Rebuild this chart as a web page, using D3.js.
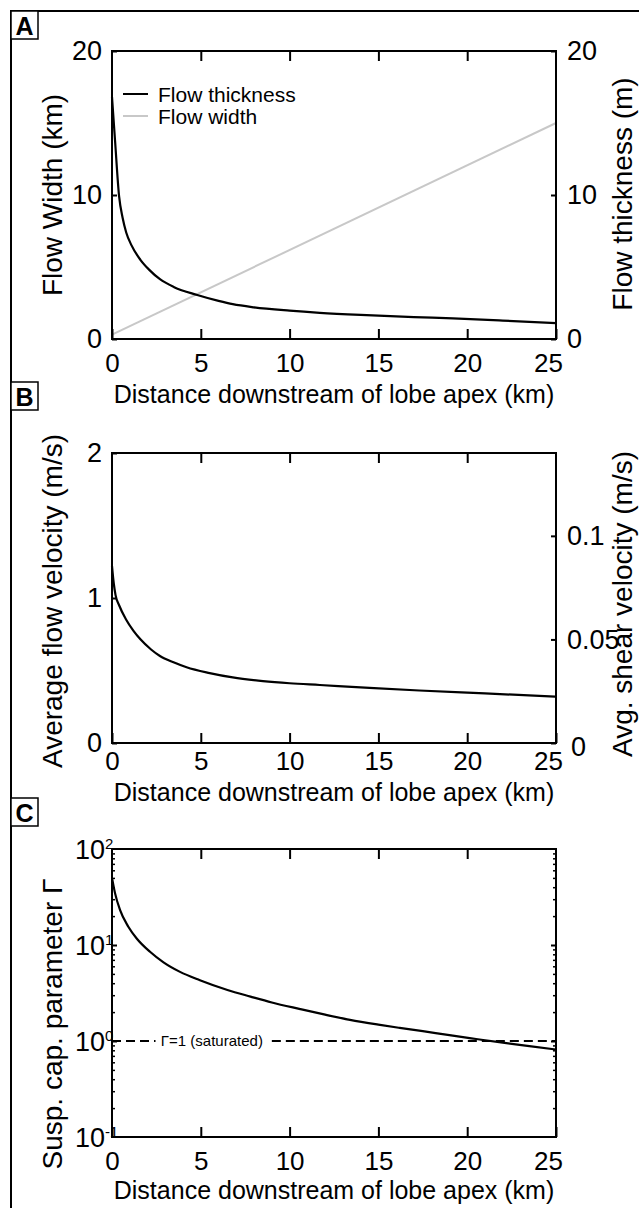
<!DOCTYPE html>
<html>
<head>
<meta charset="utf-8">
<script src="https://cdn.jsdelivr.net/npm/d3@7"></script>
<style>
  body { margin: 0; background: #fff; }
  svg { display: block; font-family: "Liberation Sans", Arial, Helvetica, sans-serif; }
</style>
</head>
<body>
<svg id="fig" width="639" height="1208"></svg>
<script>
// Shared x axis (distance downstream, km)
const xTicks = [0, 5, 10, 15, 20, 25];
const xTitle = 'Distance downstream of lobe apex (km)';

// Panel A: flow width (km, left axis) and flow thickness (m, right axis)
const widthDist = [0, 25];
const widthKm = [0.3, 15];
const thickDist = [0, 0.17, 0.4, 0.6, 0.8, 1.1, 1.6, 2.1, 2.7, 3.5, 4.8, 6, 6.8, 8, 10, 11.7, 14, 17, 19.2, 22, 25];
const thickM = [16.8, 13.8, 9.9, 8.4, 7.4, 6.5, 5.5, 4.8, 4.15, 3.6, 3.06, 2.65, 2.42, 2.2, 1.97, 1.82, 1.67, 1.52, 1.43, 1.28, 1.1];
const aTicks = [0, 10, 20];

// Panel B: average flow velocity (m/s)
const velDist = [0, 0.1, 0.2, 0.4, 0.8, 1.2, 1.6, 2.2, 2.7, 3.5, 4.2, 5.5, 6.8, 8.5, 10, 11.7, 14.5, 17.3, 21, 25];
const velMs = [1.22, 1.1, 1.02, 0.95, 0.85, 0.775, 0.715, 0.645, 0.6, 0.555, 0.522, 0.482, 0.452, 0.427, 0.412, 0.40, 0.38, 0.362, 0.342, 0.32];
const bLeftTicks = [0, 1, 2];
const bRightTicks = [0, 0.05, 0.1];

// Panel C: suspension capacity parameter (log scale)
const gammaDist = [0, 0.17, 0.45, 0.92, 1.39, 2.14, 2.9, 3.83, 4.95, 6.5, 7.8, 9, 10.6, 12, 13.4, 15, 16.2, 17.5, 19, 20.5, 22, 23.5, 25];
const gammaVal = [50, 34.7, 23.2, 15.5, 11.7, 8.5, 6.6, 5.25, 4.3, 3.4, 2.9, 2.52, 2.15, 1.88, 1.66, 1.48, 1.37, 1.265, 1.15, 1.05, 0.96, 0.885, 0.815];
const cTicks = [0.1, 1, 10, 100];
const saturatedLabel = 'Γ=1 (saturated)';

const svg = d3.select('#fig');
const L = 112, R = 556;
const x = d3.scaleLinear().domain([0, 25]).range([L, R]);
const zip = (a, b) => a.map((d, i) => [d, b[i]]);

// outer figure frame (left and top edges visible)
svg.append('path').attr('d', 'M11,1208V11H639').attr('fill', 'none').attr('stroke', '#000').attr('stroke-width', 2);

// panel letters in small boxes
[['A', 11], ['B', 382], ['C', 798]].forEach(([t, y0]) => {
  svg.append('rect').attr('x', 11).attr('y', y0).attr('width', 27).attr('height', 28)
    .attr('fill', '#fff').attr('stroke', '#000').attr('stroke-width', 1.5);
  svg.append('text').attr('x', 24.5).attr('y', y0 + 24).attr('text-anchor', 'middle')
    .attr('font-size', 25).attr('font-weight', 'bold').text(t);
});

function styleAxis(g, size) {
  g.attr('font-family', null).attr('font-size', size);
  g.select('.domain').remove();
  g.selectAll('.tick line').attr('stroke', '#000').attr('stroke-width', 2);
  g.selectAll('.tick text').attr('fill', '#000');
  return g;
}

function xAxes(top, bottom, pad, titleY) {
  svg.append('g').attr('transform', `translate(0,${bottom})`)
    .call(d3.axisBottom(x).tickValues(xTicks).tickSize(-10).tickPadding(pad).tickFormat(d3.format('d')))
    .call(g => styleAxis(g, 26))
    // last label sits just inside the right edge, as in the original
    .call(g => g.selectAll('.tick text').filter(d => d === 25).attr('dx', -8));
  svg.append('g').attr('transform', `translate(0,${top})`)
    .call(d3.axisTop(x).tickValues(xTicks.slice(1, -1)).tickSize(-10).tickFormat(''))
    .call(g => styleAxis(g, 26));
  svg.append('text').attr('x', (L + R) / 2).attr('y', titleY).attr('text-anchor', 'middle')
    .attr('font-size', 25).text(xTitle);
}

function box(top, bottom) {
  svg.append('rect').attr('x', L).attr('y', top).attr('width', R - L).attr('height', bottom - top)
    .attr('fill', 'none').attr('stroke', '#000').attr('stroke-width', 2);
}

function yLabel(xPos, cy, txt) {
  svg.append('text').attr('transform', `translate(${xPos},${cy}) rotate(-90)`)
    .attr('text-anchor', 'middle').attr('font-size', 28).text(txt);
}

// ---------- Panel A ----------
const aTop = 51, aBot = 339;
const yA = d3.scaleLinear().domain([0, 20]).range([aBot, aTop]);
svg.append('path').datum(zip(widthDist, widthKm))
  .attr('d', d3.line().x(d => x(d[0])).y(d => yA(d[1])))
  .attr('fill', 'none').attr('stroke', '#c8c8c8').attr('stroke-width', 2);
svg.append('path').datum(zip(thickDist, thickM))
  .attr('d', d3.line().x(d => x(d[0])).y(d => yA(d[1])).curve(d3.curveMonotoneX))
  .attr('fill', 'none').attr('stroke', '#000').attr('stroke-width', 2.2);
box(aTop, aBot);
svg.append('g').attr('transform', `translate(${L},0)`)
  .call(d3.axisLeft(yA).tickValues(aTicks).tickSize(-5).tickPadding(10))
  .call(g => styleAxis(g, 27));
svg.append('g').attr('transform', `translate(${R},0)`)
  .call(d3.axisRight(yA).tickValues(aTicks).tickSize(-5).tickPadding(11))
  .call(g => styleAxis(g, 27));
xAxes(aTop, aBot, 15, 403);
yLabel(62, 195, 'Flow Width (km)');
yLabel(632, 194, 'Flow thickness (m)');

// legend
const legend = [['Flow thickness', '#000', 94], ['Flow width', '#c8c8c8', 116]];
legend.forEach(([name, col, ly]) => {
  svg.append('line').attr('x1', 123).attr('x2', 148).attr('y1', ly).attr('y2', ly)
    .attr('stroke', col).attr('stroke-width', 2);
  svg.append('text').attr('x', 158).attr('y', ly).attr('dy', '0.36em').attr('font-size', 21).text(name);
});

// ---------- Panel B ----------
const bTop = 453, bBot = 743;
const yB = d3.scaleLinear().domain([0, 2]).range([bBot, bTop]);
const yB2 = d3.scaleLinear().domain([0, 0.14]).range([bBot, bTop]);
svg.append('path').datum(zip(velDist, velMs))
  .attr('d', d3.line().x(d => x(d[0])).y(d => yB(d[1])).curve(d3.curveMonotoneX))
  .attr('fill', 'none').attr('stroke', '#000').attr('stroke-width', 2.2);
box(bTop, bBot);
svg.append('g').attr('transform', `translate(${L},0)`)
  .call(d3.axisLeft(yB).tickValues(bLeftTicks).tickSize(-5).tickPadding(10).tickFormat(d3.format('d')))
  .call(g => styleAxis(g, 27));
svg.append('g').attr('transform', `translate(${R},0)`)
  .call(d3.axisRight(yB2).tickValues(bRightTicks).tickSize(-5).tickPadding(11).tickFormat(d => String(d)))
  .call(g => styleAxis(g, 27))
  .call(g => g.selectAll('.tick text').filter(d => d === 0).attr('dx', 4).attr('dy', '0.45em'));
xAxes(bTop, bBot, 9, 801);
yLabel(62, 601, 'Average flow velocity (m/s)');
yLabel(632, 604, 'Avg. shear velocity (m/s)');

// ---------- Panel C ----------
const cTop = 849, cBot = 1137;
const yC = d3.scaleLog().domain([0.1, 100]).range([cBot, cTop]);
const minor = [];
cTicks.slice(0, -1).forEach(base => { for (let k = 2; k <= 9; k++) minor.push(base * k); });

svg.append('path').datum(zip(gammaDist, gammaVal))
  .attr('d', d3.line().x(d => x(d[0])).y(d => yC(d[1])).curve(d3.curveMonotoneX))
  .attr('fill', 'none').attr('stroke', '#000').attr('stroke-width', 2.2);

// saturation reference line, broken around its label
const dashSegs = [[0, 2.45], [9.0, 25]];
dashSegs.forEach(seg => {
  svg.append('line').attr('x1', x(seg[0])).attr('x2', x(seg[1])).attr('y1', yC(1)).attr('y2', yC(1))
    .attr('stroke', '#000').attr('stroke-width', 2).attr('stroke-dasharray', '9,5');
});
svg.append('text').attr('x', x(2.75)).attr('y', yC(1)).attr('dy', '0.35em')
  .attr('font-size', 15).text(saturatedLabel);

box(cTop, cBot);
[[L, d3.axisLeft], [R, d3.axisRight]].forEach(([px, ax]) => {
  svg.append('g').attr('transform', `translate(${px},0)`)
    .call(ax(yC).tickValues(minor).tickSize(-3).tickFormat(''))
    .call(g => styleAxis(g, 27).selectAll('.tick line').attr('stroke-width', 1.5));
  svg.append('g').attr('transform', `translate(${px},0)`)
    .call(ax(yC).tickValues(cTicks.slice(1, -1)).tickSize(-5).tickFormat(''))
    .call(g => styleAxis(g, 27));
});
// power-of-ten labels
svg.append('g').selectAll('text').data(cTicks).join('text')
  .attr('x', 75).attr('y', d => yC(d)).attr('dy', '0.36em').attr('font-size', 27)
  .each(function (d) {
    const t = d3.select(this);
    t.append('tspan').text('10');
    t.append('tspan').attr('dy', '-0.62em').attr('font-size', 15).text(Math.round(Math.log10(d)));
  });
xAxes(cTop, cBot, 15, 1199);
yLabel(62, 1024, 'Susp. cap. parameter Γ');
</script>
</body>
</html>
